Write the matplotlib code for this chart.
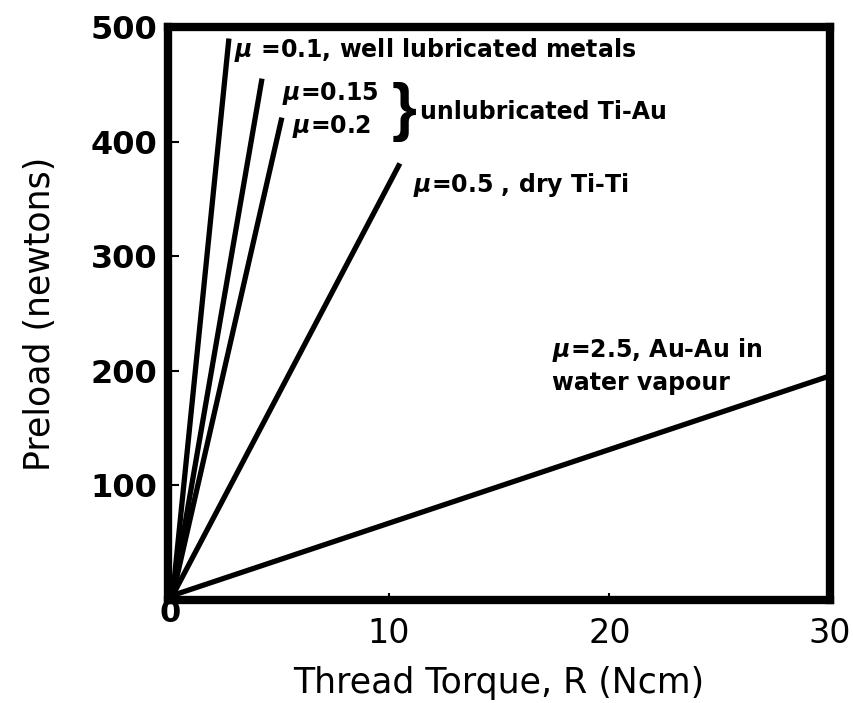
import matplotlib
matplotlib.use("Agg")
import matplotlib.pyplot as plt

# Data
mu_labels = ["0.1", "0.15", "0.2", "0.5", "2.5"]
start_torque = [0.2, 0.2, 0.2, 0.2, 0.2]
start_preload = [4, 4, 4, 4, 4]
end_torque = [2.75, 4.25, 5.15, 10.5, 29.9]
end_preload = [490, 455, 421, 381, 195]

xticks = [10, 20, 30]
yticks = [100, 200, 300, 400, 500]

plt.rcParams['font.family'] = ['DejaVu Sans']
plt.rcParams['mathtext.fontset'] = 'custom'
plt.rcParams['mathtext.rm'] = 'DejaVu Sans:bold'
plt.rcParams['mathtext.it'] = 'DejaVu Sans:italic:bold'

fig = plt.figure(figsize=(8.54, 7.03), dpi=100)
ax = fig.add_axes([0.197, 0.1465, 0.775, 0.815])

for x0, y0, x1, y1 in zip(start_torque, start_preload, end_torque, end_preload):
    ax.plot([x0, x1], [y0, y1], color='black', lw=3.8, solid_capstyle='butt')

ax.set_xlim(0, 30)
ax.set_ylim(0, 500)
for s in ax.spines.values():
    s.set_linewidth(6)
ax.set_xticks(xticks)
ax.set_xticklabels([str(v) for v in xticks], fontsize=24)
ax.set_yticks(yticks)
ax.set_yticklabels([str(v) for v in yticks], fontsize=23, fontweight='bold')
ax.tick_params(axis='both', direction='in', length=8, width=1.5, pad=8)
ax.tick_params(axis='x', length=5, pad=12)
ax.text(0.1, -12, "0", fontsize=22, fontweight='bold', ha='center', va='center')

ax.set_xlabel("Thread Torque, R (Ncm)", fontsize=25, labelpad=12)
ax.set_ylabel("Preload (newtons)", fontsize=25, labelpad=24)

fs = 17
ax.text(3.0, 480, r"$\mu$ =0.1, well lubricated metals", fontsize=fs, fontweight='bold', va='center')
ax.text(5.15, 442, r"$\mu$=0.15", fontsize=fs, fontweight='bold', va='center')
ax.text(5.6, 413, r"$\mu$=0.2", fontsize=fs, fontweight='bold', va='center')
ax.text(10.7, 426, "}", fontsize=46, fontweight='bold', family='Liberation Sans',
        va='center', ha='center')
ax.text(11.4, 426, "unlubricated Ti-Au", fontsize=fs, fontweight='bold', va='center')
ax.text(11.1, 362, r"$\mu$=0.5 , dry Ti-Ti", fontsize=fs, fontweight='bold', va='center')
ax.text(17.4, 218, r"$\mu$=2.5, Au-Au in", fontsize=fs, fontweight='bold', va='center')
ax.text(17.4, 189, "water vapour", fontsize=fs, fontweight='bold', va='center')

fig.savefig("out.png", dpi=100)
